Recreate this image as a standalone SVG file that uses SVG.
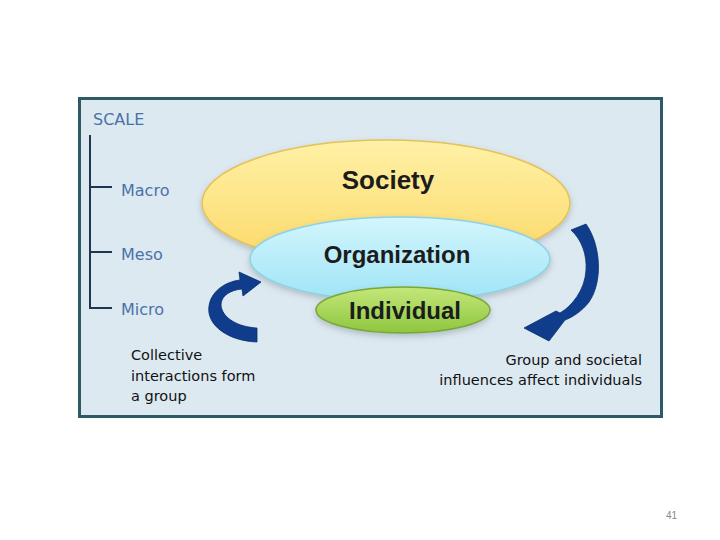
<svg xmlns="http://www.w3.org/2000/svg" width="720" height="540" viewBox="0 0 720 540">
<style>
.scale{font-family:"DejaVu Sans",sans-serif;font-size:16px;fill:#4a72a8}
.lbl{font-family:"Liberation Sans",Arial,sans-serif;font-weight:bold;fill:#1c1c1c;text-anchor:middle}
.note{font-family:"DejaVu Sans",sans-serif;font-size:14.5px;fill:#111}
.tree{stroke:#1f3550;stroke-width:2;fill:none}
.arrow{fill:#0f3d8c;stroke:#0a2f6e;stroke-width:0.8}
</style>
<defs>
<linearGradient id="gY" x1="0" y1="0" x2="0" y2="1"><stop offset="0" stop-color="#fff1a6"/><stop offset="1" stop-color="#fcd868"/></linearGradient>
<linearGradient id="gB" x1="0" y1="0" x2="0" y2="1"><stop offset="0" stop-color="#d2f6fd"/><stop offset="1" stop-color="#9fe4f6"/></linearGradient>
<linearGradient id="gG" x1="0" y1="0" x2="0" y2="1"><stop offset="0" stop-color="#c4e77a"/><stop offset="1" stop-color="#8ec63f"/></linearGradient>
<filter id="sh" x="-10%" y="-10%" width="120%" height="130%"><feDropShadow dx="0" dy="3" stdDeviation="3" flood-color="#5a6a70" flood-opacity="0.35"/></filter>
</defs>
<rect width="720" height="540" fill="#ffffff"/>
<rect x="79.5" y="98.5" width="582" height="318" fill="#dde9f1" stroke="#2e5a66" stroke-width="3"/>

<g id="scale">
<text class="scale" x="93" y="125">SCALE</text>
<path class="tree" d="M90,135 V308 H112 M90,187 H112 M90,252 H112"/>
<text class="scale" x="121" y="196">Macro</text>
<text class="scale" x="121" y="260">Meso</text>
<text class="scale" x="121" y="315">Micro</text>
</g>

<g id="society">
<ellipse cx="386" cy="203" rx="184" ry="63" fill="url(#gY)" stroke="#e6c257" stroke-width="1.5" filter="url(#sh)"/>
<text class="lbl" x="388" y="189" font-size="26">Society</text>
</g>
<g id="organization">
<ellipse cx="400" cy="259" rx="150" ry="42" fill="url(#gB)" stroke="#8ed2e6" stroke-width="1.5" filter="url(#sh)"/>
<text class="lbl" x="397" y="263" font-size="24">Organization</text>
</g>
<g id="individual">
<ellipse cx="403" cy="310" rx="87" ry="23" fill="url(#gG)" stroke="#78a836" stroke-width="1.5" filter="url(#sh)"/>
<text class="lbl" x="405" y="319" font-size="24">Individual</text>
</g>

<g id="connectors">
<path class="arrow" d="M257,342 C228,341 206,325 209,306 C211,292 224,282 240,280 L239,272 L261,282 L243,296 L242,289 C230,290 221,296 221,305 C222,318 238,327 257,328 Z"/>
<path class="arrow" d="M571,230 L586,224 C601,245 603,282 589,302 C582,311 573,317 565,320 L549,341 L524,328 L556,311 L560,313 C572,306 585,290 586,270 C587,255 582,240 571,230 Z"/>
</g>

<g id="notes">
<text class="note" x="131" y="360">Collective</text>
<text class="note" x="131" y="381">interactions form</text>
<text class="note" x="131" y="401">a group</text>
<text class="note" x="642" y="365" text-anchor="end">Group and societal</text>
<text class="note" x="642" y="385" text-anchor="end">influences affect individuals</text>
</g>
<text x="677" y="519" font-family="Liberation Sans,Arial,sans-serif" font-size="10" fill="#888" text-anchor="end">41</text>
</svg>
